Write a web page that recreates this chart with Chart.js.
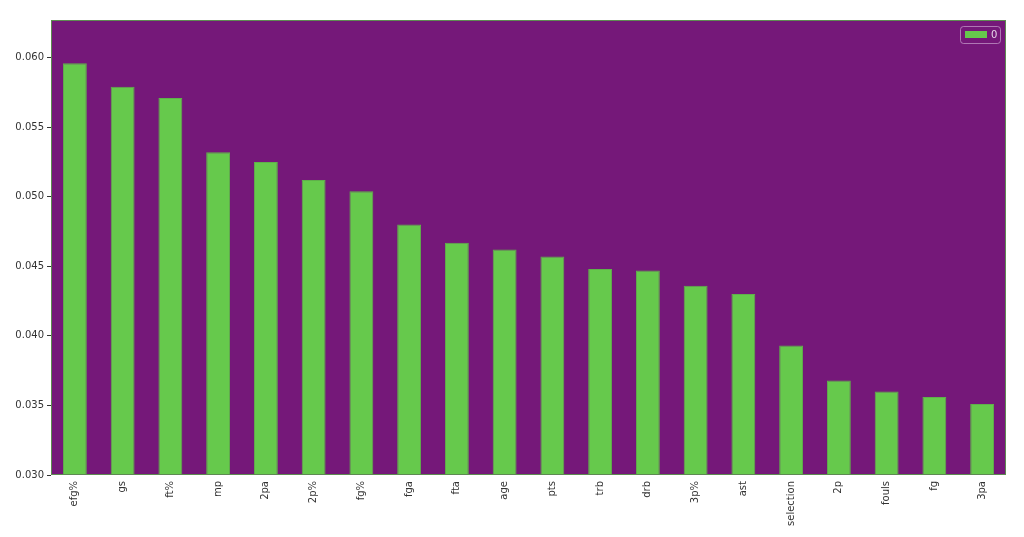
<!DOCTYPE html>
<html>
<head>
<meta charset="utf-8">
<script src="https://cdn.jsdelivr.net/npm/chart.js@4/dist/chart.umd.min.js"></script>
<style>
  html, body { margin: 0; padding: 0; background: #fff; }
  #wrap { width: 1024px; height: 537px; }
</style>
</head>
<body>
<div id="wrap"><canvas id="chart" width="1024" height="537"></canvas></div>
<script>
var labels = ["efg%", "gs", "ft%", "mp", "2pa", "2p%", "fg%", "fga", "fta", "age",
  "pts", "trb", "drb", "3p%", "ast", "selection", "2p", "fouls", "fg", "3pa"];
var importance = [0.0596, 0.0579, 0.0571, 0.0532, 0.0525, 0.0512, 0.0504, 0.0480, 0.0467, 0.0462,
  0.0457, 0.0448, 0.0447, 0.0436, 0.0430, 0.0393, 0.0368, 0.0360, 0.0356, 0.0351];
var yTicks = [0.030, 0.035, 0.040, 0.045, 0.050, 0.055, 0.060];
var seriesName = "0";

var purple = "#751879";
var green = "#66c94c";

// axes background + frame + legend inside plot
var plotBg = {
  id: "plotBg",
  beforeDatasetsDraw: function (chart) {
    var a = chart.chartArea, ctx = chart.ctx;
    ctx.save();
    ctx.fillStyle = purple;
    ctx.fillRect(a.left, a.top, a.right - a.left, a.bottom - a.top);
    ctx.restore();
  },
  afterDatasetsDraw: function (chart) {
    var a = chart.chartArea, ctx = chart.ctx;
    ctx.save();
    ctx.strokeStyle = "#5e8a52";
    ctx.lineWidth = 1;
    ctx.strokeRect(a.left + 0.5, a.top + 0.5, a.right - a.left - 1, a.bottom - a.top - 1);
    // legend
    var bx = a.right - 46, by = a.top + 6, bw = 40, bh = 17;
    ctx.strokeStyle = "rgba(200,160,205,0.7)";
    ctx.beginPath();
    ctx.roundRect(bx + 0.5, by + 0.5, bw, bh, 3);
    ctx.stroke();
    ctx.fillStyle = green;
    ctx.fillRect(bx + 5, by + 5, 22, 7);
    ctx.fillStyle = "#e6d6e8";
    ctx.font = "10px 'DejaVu Sans'";
    ctx.textBaseline = "middle";
    ctx.fillText(seriesName, bx + 31, by + 9);
    ctx.restore();
  }
};

new Chart(document.getElementById("chart"), {
  type: "bar",
  data: {
    labels: labels,
    datasets: [{
      label: seriesName,
      data: importance,
      backgroundColor: green,
      borderColor: "#5fb14a",
      borderWidth: 1,
      barPercentage: 0.5,
      categoryPercentage: 1.0
    }]
  },
  options: {
    responsive: false,
    animation: false,
    layout: { padding: { top: 20, right: 18, left: 0, bottom: 0 } },
    plugins: { legend: { display: false }, tooltip: { enabled: false } },
    scales: {
      x: {
        grid: { display: false, drawOnChartArea: false, tickLength: 4, color: "#333" },
        border: { display: false },
        ticks: {
          color: "#333",
          font: { family: "DejaVu Sans", size: 10 },
          maxRotation: 90,
          minRotation: 90,
          padding: 2
        },
        afterFit: function (s) { s.height = 62; }
      },
      y: {
        min: 0.030,
        max: 0.0627,
        afterBuildTicks: function (s) { s.ticks = yTicks.map(function (v) { return { value: v }; }); },
        grid: { drawOnChartArea: false, tickLength: 4, color: "#333" },
        border: { display: false },
        ticks: {
          color: "#333",
          font: { family: "DejaVu Sans", size: 10 },
          padding: 3,
          callback: function (v) { return v.toFixed(3); }
        },
        afterFit: function (s) { s.width = 51; }
      }
    }
  },
  plugins: [plotBg]
});
</script>
</body>
</html>
